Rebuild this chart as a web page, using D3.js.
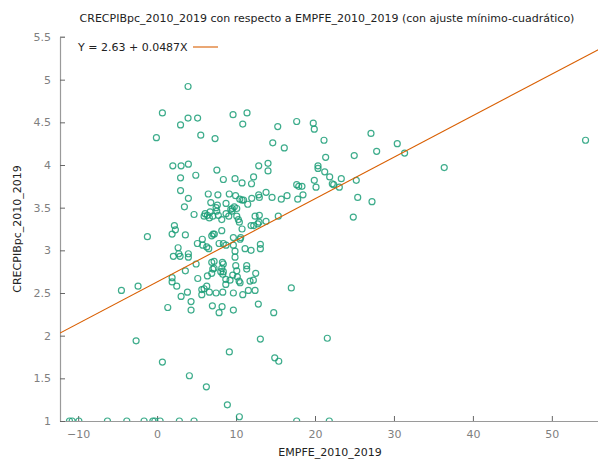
<!DOCTYPE html>
<html>
<head>
<meta charset="utf-8">
<script src="https://cdn.jsdelivr.net/npm/d3@7"></script>
<style>
  html, body { margin: 0; padding: 0; background: #fff; }
  svg { display: block; font-family: "DejaVu Sans", Verdana, sans-serif; }
</style>
</head>
<body>
<svg id="chart" width="598" height="459"></svg>
<script>
// Growth of GDP per capita vs. EMPFE, 2010-2019
const empfe = [
  3.92, 0.67, 9.62, 11.39, 3.92, 5.13, 2.97, 10.85, -0.09, 5.53, 7.34, 15.28, 17.68, 19.78, 19.91,
  27.09, 30.42, 54.27, 14.65, 16.11, 21.14, 27.81, 31.35, 21.35, 24.97, 36.37,
  1.99, 3.04, 3.96, 12.87, 14.05, 14.05, 2.97, 4.90, 7.57, 8.39, 9.87, 10.76, 12.22, 11.96,
  20.38, 20.38, 21.23, 21.86, 23.33, 22.19, 22.37, 23.08, 25.23, 19.91, 20.13, 17.68, 17.94, 18.35,
  18.48, 17.81, 25.41, 27.22, 2.97, 3.96, 6.48, 7.70, 9.14, 9.94, 10.47, 10.76, 10.95, 11.99,
  12.87, 12.95, 13.80, 14.56, 15.73, 16.46,
  3.46, 6.80, 7.63, 7.47, 8.73, 9.53, 9.78, 10.09, 9.33, 11.48, 4.68, 6.08, 6.37, 5.95, 6.62,
  7.05, 6.71, 7.56, 7.76, 8.19, 8.73, 9.08, 9.49, 10.09, 10.29, 10.42, 12.41, 12.95, 12.91,
  12.75, 12.24, 11.90, 13.80, 15.35, 24.85, 2.19, 2.32, 1.90, 3.58, -1.23,
  5.10, 5.73, 5.78, 6.29, 6.54, 6.92, 7.09, 7.25, 7.85, 8.19, 8.39, 8.73, 9.66, 9.66, 10.59,
  10.76, 10.51, 9.87, 9.87, 11.14, 11.90, 13.08, 13.08, 3.96, 3.96, 2.91, 2.66, 2.06, 2.75,
  4.94, 6.92, 7.22, 8.27, 8.39, 8.19, 3.58, 7.05, 7.22, 8.06, 8.32, 8.39, 9.96, 11.35, 11.35,
  12.49, 10.09, 9.58, 10.16, 6.37, 6.92, 5.15, 8.70, 9.24, 8.70, 10.38, 10.51, 11.77, 12.19,
  6.29, 5.95, 5.66, 5.66, 6.62, 7.47, 8.32, 9.66, 10.85, 11.56, 12.41, 3.84, 3.04, 17.00,
  1.90, 1.90, 2.49, -4.52, -2.41,
  4.30, 4.30, 7.00, 8.23, 7.85, 9.66, 12.82, 14.77, 1.35, 13.08, 21.56, 9.15, 14.90, 15.41,
  4.09, 6.24, 8.90, 10.42, -2.66, 0.67,
  -11.10, -10.76, -9.91, -6.29, -3.84, -1.65, -0.54, -0.29, 0.38, 2.82, 4.68, 17.68, 21.81
];
const crecpibpc = [
  4.92, 4.61, 4.59, 4.61, 4.55, 4.55, 4.47, 4.48, 4.32, 4.35, 4.31, 4.45, 4.51, 4.49, 4.42,
  4.37, 4.25, 4.29, 4.26, 4.20, 4.29, 4.16, 4.14, 4.09, 4.11, 3.97,
  3.99, 3.99, 4.01, 3.99, 4.02, 3.93, 3.85, 3.88, 3.94, 3.83, 3.84, 3.79, 3.86, 3.78,
  3.99, 3.96, 3.92, 3.86, 3.84, 3.78, 3.77, 3.74, 3.82, 3.82, 3.74, 3.77, 3.75, 3.75,
  3.65, 3.60, 3.62, 3.57, 3.70, 3.61, 3.66, 3.65, 3.66, 3.64, 3.60, 3.59, 3.59, 3.61,
  3.65, 3.62, 3.68, 3.62, 3.60, 3.64,
  3.51, 3.56, 3.53, 3.50, 3.55, 3.49, 3.51, 3.49, 3.48, 3.54, 3.42, 3.43, 3.41, 3.40, 3.38,
  3.40, 3.45, 3.46, 3.41, 3.36, 3.43, 3.40, 3.46, 3.40, 3.36, 3.33, 3.40, 3.41, 3.33,
  3.31, 3.29, 3.29, 3.34, 3.40, 3.39, 3.29, 3.24, 3.19, 3.18, 3.16,
  3.08, 3.13, 3.06, 3.04, 3.02, 3.17, 3.19, 3.19, 3.08, 3.23, 3.08, 3.06, 3.15, 3.06, 3.15,
  3.25, 3.13, 2.99, 2.92, 3.02, 3.00, 3.07, 3.02, 2.96, 2.92, 2.93, 3.03, 2.93, 2.96,
  2.84, 2.86, 2.87, 2.86, 2.84, 2.79, 2.76, 2.78, 2.79, 2.75, 2.72, 2.75, 2.82, 2.82, 2.78,
  2.73, 2.76, 2.71, 2.69, 2.70, 2.73, 2.67, 2.66, 2.65, 2.60, 2.64, 2.62, 2.64, 2.65,
  2.58, 2.55, 2.54, 2.48, 2.51, 2.50, 2.51, 2.50, 2.48, 2.53, 2.53, 2.51, 2.46, 2.56,
  2.68, 2.63, 2.58, 2.53, 2.58,
  2.40, 2.30, 2.35, 2.34, 2.27, 2.30, 2.37, 2.27, 2.33, 1.96, 1.97, 1.81, 1.74, 1.70,
  1.53, 1.40, 1.19, 1.05, 1.94, 1.69,
  1, 1, 1, 1, 1, 1, 1, 1, 1, 1, 1, 1, 1
];

// OLS fit shown in the key
const fitIntercept = 2.63;
const fitSlope = 0.0487;
const fitLabel = "Y = 2.63 + 0.0487X";

const xTicks = [-10, 0, 10, 20, 30, 40, 50];
const yTicks = [1, 1.5, 2, 2.5, 3, 3.5, 4, 4.5, 5, 5.5];
const xDomain = [-12.3, 56.1];
const yDomain = [1, 5.5];

const titleText = "CRECPIBpc_2010_2019 con respecto a EMPFE_2010_2019 (con ajuste mínimo-cuadrático)";
const xLabel = "EMPFE_2010_2019";
const yLabel = "CRECPIBpc_2010_2019";

const svg = d3.select("#chart");
const plot = { left: 60, right: 600, top: 37, bottom: 421 };

const x = d3.scaleLinear().domain(xDomain).range([plot.left, plot.right]);
const y = d3.scaleLinear().domain(yDomain).range([plot.bottom, plot.top]);

const axisColor = "#9a9a9a";
const labelColor = "#7f7f7f";

svg.append("defs").append("clipPath").attr("id", "plotclip")
  .append("rect")
  .attr("x", plot.left).attr("y", plot.top)
  .attr("width", plot.right - plot.left).attr("height", plot.bottom - plot.top);

// Axes: ticks point inward, only left and bottom border
const xAxis = d3.axisBottom(x).tickValues(xTicks).tickSizeInner(-5).tickSizeOuter(0).tickPadding(9)
  .tickFormat(d3.format("d"));
const yAxis = d3.axisLeft(y).tickValues(yTicks).tickSizeInner(-5).tickSizeOuter(0).tickPadding(9)
  .tickFormat(d => String(d));

const gx = svg.append("g").attr("transform", `translate(0,${plot.bottom})`).call(xAxis);
const gy = svg.append("g").attr("transform", `translate(${plot.left},0)`).call(yAxis);
[gx, gy].forEach(g => {
  g.select(".domain").attr("stroke", axisColor).attr("stroke-width", 1.2);
  g.selectAll(".tick line").attr("stroke", "#666").attr("stroke-width", 1);
  g.selectAll(".tick text").attr("fill", labelColor).attr("font-size", 11)
    .attr("font-family", "DejaVu Sans, Verdana, sans-serif");
});
// top corner tick on the y axis
gy.append("line").attr("x1", 0).attr("x2", 5).attr("y1", plot.top).attr("y2", plot.top)
  .attr("stroke", axisColor).attr("stroke-width", 1.2);

// Scatter points
svg.append("g").attr("clip-path", "url(#plotclip)")
  .selectAll("circle")
  .data(d3.range(empfe.length))
  .join("circle")
  .attr("cx", i => x(empfe[i]))
  .attr("cy", i => y(crecpibpc[i]))
  .attr("r", 3)
  .attr("fill", "none")
  .attr("stroke", "#1b9e77")
  .attr("stroke-opacity", 0.85)
  .attr("stroke-width", 1.2);

// Regression line
const fit = v => fitIntercept + fitSlope * v;
svg.append("g").attr("clip-path", "url(#plotclip)")
  .append("line")
  .attr("x1", x(xDomain[0])).attr("y1", y(fit(xDomain[0])))
  .attr("x2", x(xDomain[1])).attr("y2", y(fit(xDomain[1])))
  .attr("stroke", "#d95f02").attr("stroke-width", 1.1);

// Key
svg.append("text").attr("x", 78).attr("y", 51)
  .attr("font-size", 11).attr("fill", "#222").text(fitLabel);
svg.append("line").attr("x1", 193).attr("x2", 218).attr("y1", 47).attr("y2", 47)
  .attr("stroke", "#d95f02").attr("stroke-width", 1.1);

// Titles
svg.append("text").attr("x", 327).attr("y", 22).attr("text-anchor", "middle")
  .attr("font-size", 11).attr("fill", "#222").text(titleText);
svg.append("text").attr("x", 330).attr("y", 456).attr("text-anchor", "middle")
  .attr("font-size", 11).attr("fill", "#222").text(xLabel);
svg.append("text").attr("transform", "translate(21,229) rotate(-90)").attr("text-anchor", "middle")
  .attr("font-size", 11).attr("fill", "#222").text(yLabel);
</script>
</body>
</html>
